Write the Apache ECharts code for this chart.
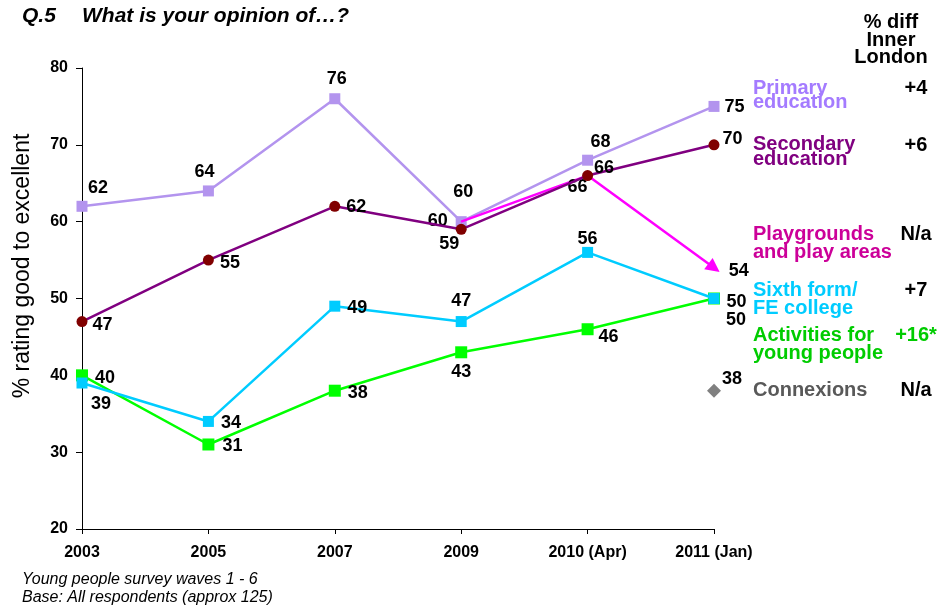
<!DOCTYPE html>
<html><head><meta charset="utf-8">
<script src="https://cdn.jsdelivr.net/npm/echarts@6/dist/echarts.min.js"></script>
<style>html,body{margin:0;padding:0;background:#fff}#c{width:939px;height:610px}</style>
</head><body><div id="c"></div>
<script>
const categories = ['2003','2005','2007','2009','2010 (Apr)','2011 (Jan)'];
const primary    = [62, 64, 76, 60, 68, 75];
const secondary  = [47, 55, 62, 59, 66, 70];
const playgrounds= [null, null, null, 60, 66, 54];
const sixthForm  = [39, 34, 49, 47, 56, 50];
const activities = [40, 31, 38, 43, 46, 50];
const connexions = [null, null, null, null, null, 38];
const yTicks = [20, 30, 40, 50, 60, 70, 80];

// label placement (style only)
const primaryPos    = [['top',[16,1]],['top',[-4,1]],['top',[2,0]],['top',[2,-10]],['top',[13,1]],['right',[0,1]]];
const secondaryPos  = [['right',[0,3]],['right',[1,3]],['right',[1,1]],['bottom',[-12,-5]],['right',[-4,-8]],['right',[-2,-6]]];
const playPos       = [null,null,null,['left',[-8,-1]],['bottom',[-10,-3]],['right',[0,3]]];
const sixthPos      = [['bottom',[19,2]],['right',[2,2]],['right',[2,2]],['top',[0,-1]],['top',[0,6]],['right',[2,4]]];
const actPos        = [['right',[2,3]],['right',[3,2]],['right',[2,2]],['bottom',[0,0]],['right',[0,8]],['right',[1,22]]];
const conPos        = [null,null,null,null,null,['right',[-4,-12]]];

const F = 'Liberation Sans';
const lblStyle = {show:true, color:'#000', fontFamily:F, fontWeight:'bold', fontSize:18};
function build(vals, pos, extra){
  return vals.map((v,i)=>{
    if(v===null) return null;
    const p = pos[i];
    const item = {value:v, label:Object.assign({}, lblStyle, {position:p[0], offset:p[1]})};
    if(extra && extra[i]) Object.assign(item, extra[i]);
    return item;
  });
}
const playExtra = [null,null,null,null,null,{symbol:'triangle', symbolSize:14, symbolRotate:-127}];

const chart = echarts.init(document.getElementById('c'));
const legendItems = [
  {t:'Primary\neducation', c:'#A47BFF', y:95, lh:14, v:'+4', vy:88, vc:'#000'},
  {t:'Secondary\neducation', c:'#800080', y:152, lh:15, v:'+6', vy:145, vc:'#000'},
  {t:'Playgrounds\nand play areas', c:'#CC0099', y:243, lh:18, v:'N/a', vy:234, vc:'#000'},
  {t:'Sixth form/\nFE college', c:'#00CCFF', y:299, lh:18, v:'+7', vy:290, vc:'#000'},
  {t:'Activities for\nyoung people', c:'#00CC00', y:344, lh:18, v:'+16*', vy:335, vc:'#00CC00'},
  {t:'Connexions', c:'#595959', y:390, lh:18, v:'N/a', vy:390, vc:'#000'}
];
const graphics = [
  {type:'text', left:22, top:6, style:{text:'Q.5', font:'italic bold 21px Liberation Sans', fill:'#000'}},
  {type:'text', left:82, top:6, style:{text:'What is your opinion of…?', font:'italic bold 21px Liberation Sans', fill:'#000'}},
  {type:'text', x:891, y:40, style:{text:'% diff\nInner\nLondon', font:'bold 20px Liberation Sans', fill:'#000', align:'center', verticalAlign:'middle', lineHeight:17.5}},
  {type:'text', x:23, y:266, rotation:Math.PI/2, style:{text:'% rating good to excellent', font:'23px Liberation Sans', fill:'#000', align:'center', verticalAlign:'middle'}},
  {type:'text', left:22, top:572, style:{text:'Young people survey waves 1 - 6', font:'italic 16px Liberation Sans', fill:'#000'}},
  {type:'text', left:22, top:590, style:{text:'Base: All respondents (approx 125)', font:'italic 16px Liberation Sans', fill:'#000'}}
];
legendItems.forEach(it=>{
  graphics.push({type:'text', x:753, y:it.y, style:{text:it.t, font:'bold 20px Liberation Sans', fill:it.c, align:'left', verticalAlign:'middle', lineHeight:it.lh}});
  graphics.push({type:'text', x:916, y:it.vy, style:{text:it.v, font:'bold 20px Liberation Sans', fill:it.vc, align:'center', verticalAlign:'middle'}});
});

chart.setOption({
  animation:false,
  backgroundColor:'#fff',
  textStyle:{fontFamily:F},
  grid:{left:82, right:225, top:68, bottom:81, containLabel:false},
  xAxis:{type:'category', data:categories, boundaryGap:false,
    axisLine:{lineStyle:{color:'#000', width:1}},
    axisTick:{show:true, alignWithLabel:true, length:5, lineStyle:{color:'#000'}},
    axisLabel:{color:'#000', fontWeight:'bold', fontSize:16, fontFamily:F, margin:16},
    splitLine:{show:false}},
  yAxis:{type:'value', min:yTicks[0], max:yTicks[yTicks.length-1], interval:10,
    axisLine:{show:true, lineStyle:{color:'#000', width:1}},
    axisTick:{show:true, length:6, lineStyle:{color:'#000'}},
    axisLabel:{color:'#000', fontWeight:'bold', fontSize:16, fontFamily:F, margin:14},
    splitLine:{show:false}},
  graphic:graphics,
  series:[
    {name:'Primary', type:'line', data:build(primary, primaryPos), symbol:'rect', symbolSize:11,
      lineStyle:{color:'#B394EE', width:2.5}, itemStyle:{color:'#B394EE'}, z:3},
    {name:'Playgrounds', type:'line', data:build(playgrounds, playPos, playExtra), symbol:'circle', symbolSize:1,
      lineStyle:{color:'#FF00FF', width:2.5}, itemStyle:{color:'#FF00FF'}, z:4},
    {name:'Secondary', type:'line', data:build(secondary, secondaryPos), symbol:'circle', symbolSize:11,
      lineStyle:{color:'#800080', width:2.5}, itemStyle:{color:'#800000'}, z:5},
    {name:'Sixth', type:'line', data:build(sixthForm, sixthPos), symbol:'rect', symbolSize:11,
      lineStyle:{color:'#00CCFF', width:2.5}, itemStyle:{color:'#00CCFF'}, z:4},
    {name:'Activities', type:'line', data:build(activities, actPos), symbol:'rect', symbolSize:12,
      lineStyle:{color:'#00FF00', width:2.5}, itemStyle:{color:'#00FF00'}, z:3},
    {name:'Connexions', type:'line', data:build(connexions, conPos), symbol:'diamond', symbolSize:14,
      lineStyle:{width:0}, itemStyle:{color:'#808080'}, z:3}
  ]
});
</script></body></html>
